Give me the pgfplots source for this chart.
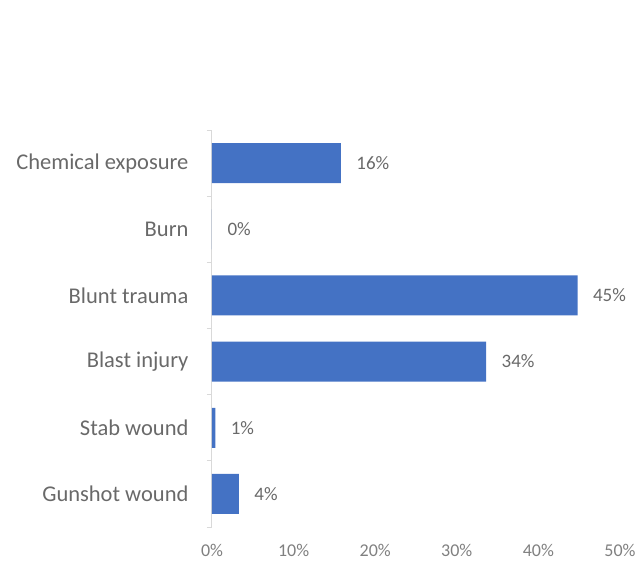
\documentclass[border=0pt]{standalone}
\usepackage{fontspec}
\setmainfont{Carlito}
\usepackage{pgfplots}
\pgfplotsset{compat=1.18}
\definecolor{barblue}{RGB}{68,114,196}
\definecolor{txtgray}{RGB}{105,105,105}
\definecolor{axgray}{RGB}{217,217,217}
\begin{document}
\begin{tikzpicture}
\path[use as bounding box] (-212pt,-46pt) rectangle (430pt,527pt);
\begin{axis}[
    xbar,
    scale only axis,
    width=408pt, height=397pt,
    xmin=0, xmax=50,
    ymin=-0.5, ymax=5.5,
    bar width=40pt,
    axis x line*=bottom,
    axis y line*=left,
    x axis line style={draw=none},
    y axis line style={draw=axgray, line width=1pt},
    xtick={0,10,...,50},
    xticklabel={\pgfmathprintnumber{\tick}\%},
    xtick style={draw=none},
    xticklabel style={font=\fontsize{18}{21}\selectfont, text=txtgray!85, yshift=-14pt},
    /pgf/number format/assume math mode=true,
    ytick={0,...,5},
    yticklabels={Gunshot wound,Stab wound,Blast injury,Blunt trauma,Burn,Chemical exposure},
    minor ytick={-0.5,0.5,...,5.5},
    major tick length=0pt,
    minor tick length=5pt,
    tick align=outside,
    minor tick style={draw=axgray, line width=1pt},
    yticklabel style={font=\fontsize{22.5}{26}\selectfont, text=txtgray, xshift=-20pt},
    clip=false,
    point meta=explicit symbolic,
    nodes near coords,
    every node near coord/.append style={font=\fontsize{19}{22}\selectfont, text=txtgray, anchor=west, xshift=12pt},
]
\addplot[fill=barblue, draw=none] coordinates {
    (3.3,0) [4\%]
    (0.4,1) [1\%]
    (33.6,2) [34\%]
    (44.8,3) [45\%]
    (0,4) [0\%]
    (15.8,5) [16\%]
};
\end{axis}
\end{tikzpicture}
\end{document}
